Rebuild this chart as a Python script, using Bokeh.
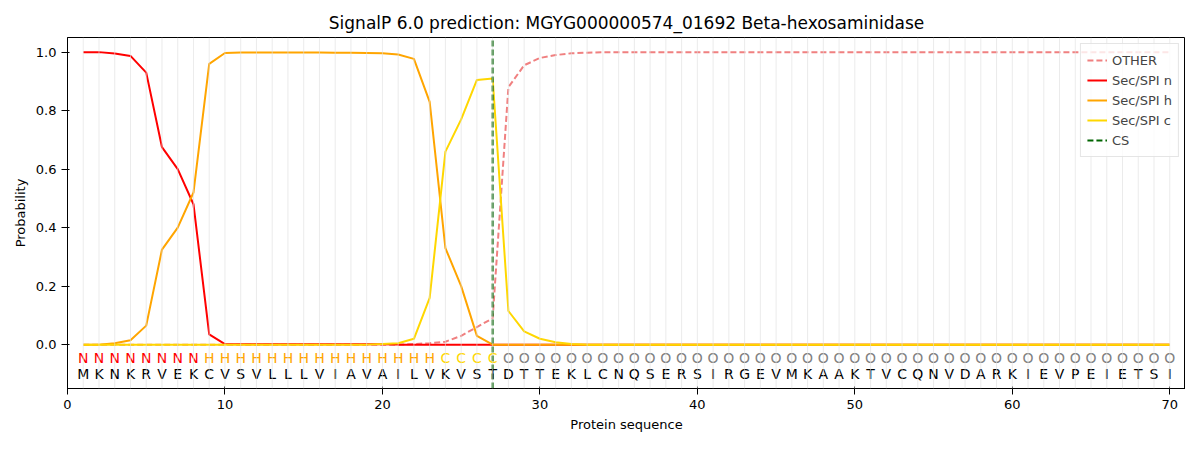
from bokeh.plotting import figure
from bokeh.models import Range1d, FixedTicker, Span, Legend, LegendItem
from bokeh.embed import file_html
from bokeh.resources import INLINE

seq = list("MKNKRVEKCVSVLLLVIAVAILVKVSTDTTEKLCNQSERSIRGEVMKAAKTVCQNVDARKIEVPEIETSI")
labels = ["N"]*8 + ["H"]*15 + ["C"]*4 + ["O"]*43
pos = list(range(1, 71))
sp_n = [1.0,1.0,0.995,0.987,0.93,0.675,0.6,0.48,0.035,0.002] + [0.001]*10 + [0.0]*50
sp_h = [0.0,0.0,0.005,0.015,0.065,0.325,0.4,0.52,0.96,0.997,0.999,0.999,0.999,0.999,0.999,0.999,0.998,0.998,0.997,0.996,0.992,0.977,0.83,0.33,0.2,0.03,0.0] + [0.0]*43
sp_c = [0.0]*19 + [0.002,0.005,0.02,0.16,0.66,0.77,0.905,0.91,0.115,0.045,0.02,0.008,0.002] + [0.0]*38
other = [0.0]*21 + [0.002,0.005,0.01,0.03,0.06,0.09,0.88,0.955,0.98,0.99,0.996,0.998] + [1.0]*37
cs_pos = 27

p = figure(width=1185, height=434, output_backend="svg", toolbar_location=None,
           title="SignalP 6.0 prediction: MGYG000000574_01692 Beta-hexosaminidase",
           x_range=Range1d(0, 71), y_range=Range1d(-0.15, 1.05),
           min_border_left=67, min_border_right=0, min_border_top=37, min_border_bottom=42)
p.title.align = "center"
p.title.text_font = "DejaVu Sans"
p.title.text_font_size = "17px"
p.title.text_color = "black"
p.title.text_font_style = "normal"
p.xaxis.axis_label = "Protein sequence"
p.yaxis.axis_label = "Probability"
for ax in (p.xaxis[0], p.yaxis[0]):
    ax.axis_label_text_font = "DejaVu Sans"
    ax.axis_label_text_font_style = "normal"
    ax.axis_label_text_font_size = "13px"
    ax.axis_label_text_color = "black"
    ax.major_label_text_font = "DejaVu Sans"
    ax.major_label_text_font_size = "13px"
    ax.major_label_text_color = "black"
    ax.minor_tick_line_color = None
    ax.axis_line_color = "black"
    ax.major_tick_line_color = "black"
p.xaxis.ticker = FixedTicker(ticks=[0,10,20,30,40,50,60,70])
p.yaxis.ticker = FixedTicker(ticks=[0,0.2,0.4,0.6,0.8,1.0])
p.yaxis.major_label_overrides = {0: "0.0", 0.2: "0.2", 0.4: "0.4", 0.6: "0.6", 0.8: "0.8", 1.0: "1.0"}
p.xgrid.grid_line_color = None
p.ygrid.grid_line_color = None
p.outline_line_color = "black"

for x in pos:
    p.add_layout(Span(location=x, dimension="height", line_color="#dddddd", line_alpha=0.6, line_width=1))

r_o = p.line(pos, other, color="#f08080", line_dash="6 3", line_width=2)
r_n = p.line(pos, sp_n, color="red", line_width=2)
r_h = p.line(pos, sp_h, color="orange", line_width=2)
r_c = p.line(pos, sp_c, color="gold", line_width=2)
r_cs = p.line([cs_pos, cs_pos], [-0.15, 1.05], color="#006400", line_dash="6 3", line_width=2)

colmap = {"N": "red", "H": "orange", "C": "gold", "O": "gray"}
p.text(pos, [-0.047]*70, text=labels, text_color=[colmap[l] for l in labels],
       text_align="center", text_baseline="middle", text_font_size="14px", text_font={"value": "DejaVu Sans"})
p.text(pos, [-0.1]*70, text=seq, text_color="black",
       text_align="center", text_baseline="middle", text_font_size="14px", text_font={"value": "DejaVu Sans"})

leg = Legend(items=[LegendItem(label="OTHER", renderers=[r_o]), LegendItem(label="Sec/SPI n", renderers=[r_n]),
                    LegendItem(label="Sec/SPI h", renderers=[r_h]), LegendItem(label="Sec/SPI c", renderers=[r_c]),
                    LegendItem(label="CS", renderers=[r_cs])],
             location="top_right", label_text_font="DejaVu Sans", label_text_font_size="13px",
             spacing=0, padding=6, glyph_height=20, label_height=20, border_line_color="#cccccc",
             background_fill_alpha=0.8, margin=6)
p.add_layout(leg)

open("out.html", "w").write(file_html(p, INLINE))
